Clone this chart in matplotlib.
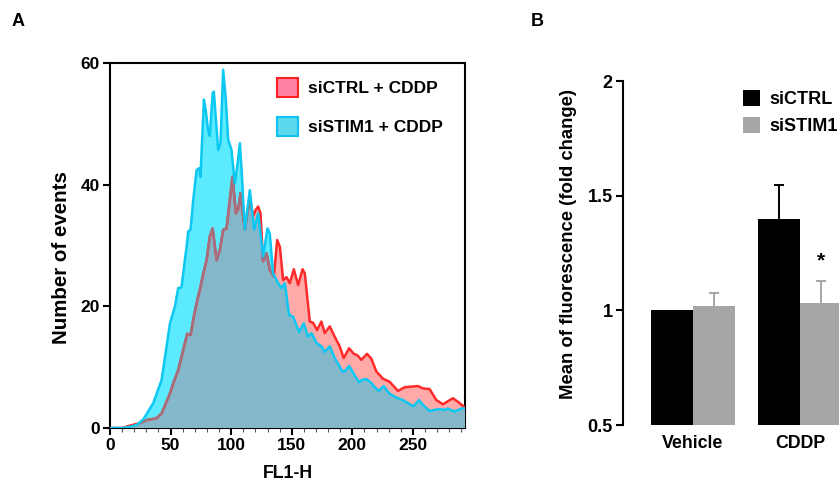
import numpy as np
import matplotlib
matplotlib.use("Agg")
import matplotlib.pyplot as plt
from matplotlib.patches import Patch

plt.rcParams['font.family'] = ['Liberation Sans', 'DejaVu Sans']
plt.rcParams['font.weight'] = 'bold'
plt.rcParams['axes.labelweight'] = 'bold'

# ---------------- Panel A data (histogram traces) ----------------
ctrl_x = [0, 10, 16.5, 24.7, 30.2, 38.5, 42.6, 46, 49.5, 53, 56.3, 60.4, 63.7, 66.5, 69.2, 72,
          74.5, 77, 79.7, 82.4, 84.7, 88, 90.7, 93.4, 96.2, 98.9, 101.1, 103.9, 105.8, 107.7,
          111.3, 115.4, 118.1, 120.4, 122.3, 124.2, 126.4, 129.2, 131.9, 135.2, 138, 140.2,
          142.9, 145.7, 148.4, 151.7, 155.3, 158.9, 160.8, 164.9, 167.6, 170.9, 174.5, 177.2,
          181.4, 185.5, 189.6, 192.9, 197.3, 201.2, 203.9, 207.5, 212.1, 215.7, 219.8, 222.6,
          225.3, 230.8, 237.7, 243.2, 254.2, 258.3, 263.8, 269.3, 274.8, 278.1, 283, 287.2, 292.7]
ctrl_y = [0, 0, 0.4, 0.8, 1.3, 1.6, 2.4, 4, 5.7, 7.8, 9.5, 12.8, 15.5, 15.3, 18.3, 21,
          23, 25.4, 27.6, 31.5, 32.8, 27.6, 29.3, 32.6, 32.8, 37.5, 41.3, 35.3, 35.9, 38.6,
          32.6, 38, 34.8, 35.9, 36.4, 35.3, 27.4, 28.7, 26, 24.9, 30.9, 29.8,
          24.3, 24.8, 23.8, 26.1, 23.5, 26.1, 25.4, 17.5, 17.3, 16.1, 17.5, 15.6,
          16.7, 15, 13.4, 11.5, 13.1, 12.2, 12, 11.2, 12.2, 11.4, 9.3, 8.7,
          8.1, 7.6, 6.1, 6.7, 6.9, 6.5, 6.4, 4.6, 3.9, 4.3, 4.9, 4.3, 3.4]

stim_x = [0, 10, 16.5, 22, 27.5, 35.7, 42.6, 49.5, 53.6, 56.3, 59, 63.2, 64.6, 66.5, 68.7,
          71.5, 73.6, 74.7, 75.8, 77.5, 79, 81, 82.4, 84.7, 85.7, 89.3, 91.2, 93.4, 95.6,
          97.5, 100.3, 103, 105, 107.2, 108.6, 111.3, 115.4, 119, 122.3, 126.4, 130, 131.9,
          134.6, 138.8, 141.5, 144.3, 147.8, 151.1, 156.1, 159.9, 163.5, 166.3, 170.4, 174.5,
          177.2, 181.4, 185.5, 189.6, 191.8, 193.7, 197.3, 201.2, 205.6, 208.9, 212.1, 215.7,
          218.5, 222, 225.9, 230.3, 236.3, 241.8, 247.3, 250.6, 255, 258.3, 263.8, 270.7,
          276.2, 278.9, 284.4, 289.9, 293]
stim_y = [0, 0, 0.2, 0.5, 1.4, 4.1, 7.9, 17.2, 20, 23, 23.1, 29.8, 32.3, 32.6, 37.5,
          42.4, 42.7, 41.3, 46.3, 54, 52.3, 48.8, 48, 55, 55.3, 45.7, 46.8, 58.9, 54,
          47.4, 45.7, 40.2, 43, 46.8, 42.4, 32.6, 39.1, 32.6, 35.3, 28.2, 32.8, 32,
          25.4, 23.8, 23, 23.8, 18.6, 18.3, 15.8, 17.2, 15, 15.6, 14, 13.4,
          12.5, 13.4, 11.5, 10.1, 9.3, 9.3, 10.2, 8.9, 7.5, 8, 8, 7.4,
          6.7, 6.1, 6.9, 5.7, 5, 4.6, 3.9, 3.6, 4.6, 3.8, 2.8, 3.1,
          3, 3.2, 2.7, 3.2, 3.2]

series_labels = ['siCTRL + CDDP', 'siSTIM1 + CDDP']
a_xticks = [0, 50, 100, 150, 200, 250]
a_yticks = [0, 20, 40, 60]

# ---------------- Panel B data (bar chart) ----------------
groups = ['Vehicle', 'CDDP']
ctrl_mean = [1.0, 1.40]
ctrl_err = [0.0, 0.145]
stim_mean = [1.02, 1.03]
stim_err = [0.055, 0.10]
b_labels = ['siCTRL', 'siSTIM1']
b_yticks = [0.5, 1, 1.5, 2]
b_yticklabels = ['0.5', '1', '1.5', '2']

# colours
C_BLUE_FILL = '#5CEAFE'
C_RED_FILL = '#FFA9A9'
C_OVER = '#85B7CB'
C_RED_LINE = '#FF2B2B'
C_BLUE_LINE = '#0BC8F2'
C_MAUVE = '#A4707E'
C_GRAY = '#A6A6A6'

W, H = 839, 482
fig = plt.figure(figsize=(W / 100, H / 100), dpi=100)

# ================= Panel A =================
axA = fig.add_axes([110 / W, 1 - 428 / H, (465 - 110) / W, (428 - 63) / H])
blue_poly = axA.fill_between(stim_x, 0, stim_y, color=C_BLUE_FILL, lw=0, zorder=1)
axA.fill_between(ctrl_x, 0, ctrl_y, color=C_RED_FILL, lw=0, zorder=2)
over = axA.fill_between(ctrl_x, 0, ctrl_y, color=C_OVER, lw=0, zorder=3)
bpath = blue_poly.get_paths()[0]
over.set_clip_path(bpath, axA.transData)
axA.plot(ctrl_x, ctrl_y, color=C_RED_LINE, lw=1.8, zorder=4)
mauve, = axA.plot(ctrl_x, ctrl_y, color=C_MAUVE, lw=1.8, zorder=5)
mauve.set_clip_path(bpath, axA.transData)
axA.plot(stim_x, stim_y, color=C_BLUE_LINE, lw=1.8, zorder=6)

axA.set_xlim(0, 293)
axA.set_ylim(0, 60)
axA.set_xticks(a_xticks)
axA.set_xticks(np.arange(0, 293, 10), minor=True)
axA.set_yticks(a_yticks)
axA.tick_params(axis='both', which='major', labelsize=12.5, length=5, width=1.5,
                direction='out', pad=2.5)
axA.tick_params(axis='x', which='minor', length=3, width=0.8, color='#555555')
for lab in axA.get_xticklabels() + axA.get_yticklabels():
    lab.set_fontweight('bold')
for s in axA.spines.values():
    s.set_linewidth(1.5)
axA.set_xlabel('FL1-H', fontsize=12.8, fontweight='bold')
axA.xaxis.set_label_coords(0.5, -0.1)
axA.set_ylabel('Number of events', fontsize=14.8, fontweight='bold')
axA.yaxis.set_label_coords(-0.11, 0.467)

hA = [Patch(facecolor='#FF80A0', edgecolor='#FF2020', lw=1.5),
      Patch(facecolor='#5DD9EE', edgecolor='#10C0F0', lw=1.5)]
legA = axA.legend(hA, series_labels, loc='upper left', bbox_to_anchor=(277 / W, 1 - 78 / H),
                  bbox_transform=fig.transFigure, frameon=False, fontsize=12.5,
                  handlelength=1.2, handleheight=1.3, handletextpad=0.6, labelspacing=1.14,
                  borderpad=0, borderaxespad=0)
for t in legA.get_texts():
    t.set_fontweight('bold')

# ================= Panel B =================
w = 0.393
cap = 0.047
xg = np.arange(len(groups))
axB = fig.add_axes([623 / W, 1 - 425 / H, (839 - 623) / W, (425 - 81) / H])
axB.bar(xg - w / 2, ctrl_mean, w, color='black', label=b_labels[0], zorder=2)
axB.bar(xg + w / 2, stim_mean, w, color=C_GRAY, label=b_labels[1], zorder=2)
for xs, m, e, c in [(xg - w / 2, ctrl_mean, ctrl_err, 'black'),
                    (xg + w / 2, stim_mean, stim_err, C_GRAY)]:
    for xi, mi, ei in zip(xs, m, e):
        if ei > 0:
            axB.vlines(xi, mi, mi + ei, color=c, lw=1.4, zorder=1)
            axB.hlines(mi + ei, xi - cap, xi + cap, color=c, lw=1.4, zorder=1)
axB.text(xg[1] + w / 2, stim_mean[1] + stim_err[1] + 0.045, '*', ha='center', va='bottom',
         fontsize=15, fontweight='bold')
axB.set_xlim(-0.654, 1.364)
axB.set_ylim(0.5, 2)
axB.set_yticks(b_yticks)
axB.set_yticklabels(b_yticklabels)
axB.set_xticks(xg)
axB.set_xticklabels(groups)
axB.tick_params(axis='y', labelsize=13, length=5, width=1.5, pad=2.5)
axB.tick_params(axis='x', labelsize=12.8, length=0, pad=7)
for lab in axB.get_xticklabels() + axB.get_yticklabels():
    lab.set_fontweight('bold')
for k in ['top', 'right', 'bottom']:
    axB.spines[k].set_visible(False)
axB.spines['left'].set_linewidth(1.5)
axB.set_ylabel('Mean of fluorescence (fold change)', fontsize=13.3, fontweight='bold')
axB.yaxis.set_label_coords(-0.213, 0.525)
legB = axB.legend(loc='upper left', bbox_to_anchor=(743 / W, 1 - 90 / H),
                  bbox_transform=fig.transFigure, frameon=False, fontsize=13,
                  handlelength=0.95, handleheight=0.95, handletextpad=0.5, labelspacing=0.5,
                  borderpad=0, borderaxespad=0)
for t in legB.get_texts():
    t.set_fontweight('bold')

fig.text(18 / W, 1 - 22 / H, 'A', fontsize=13, fontweight='bold', ha='center', va='center')
fig.text(537 / W, 1 - 22 / H, 'B', fontsize=13, fontweight='bold', ha='center', va='center')

fig.savefig('out.png', dpi=100)
